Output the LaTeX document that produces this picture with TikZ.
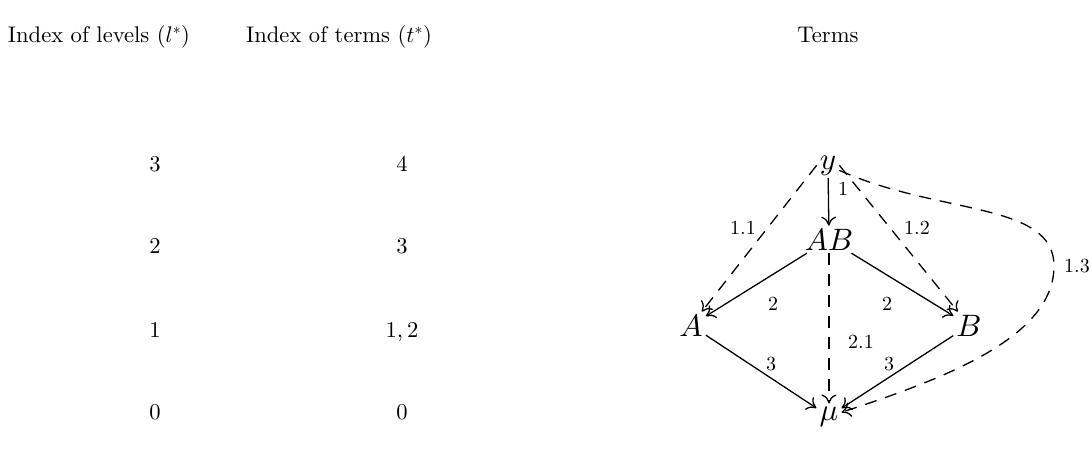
\documentclass[tikz,border=0pt]{standalone}
\usepackage{fontspec}
\setmainfont{lmroman10-regular.otf}
\usetikzlibrary{arrows.meta}
\DeclareFontShape{OT1}{cmr}{m}{n}{<->cmr10}{}
\DeclareFontShape{OML}{cmm}{m}{it}{<->cmmi10}{}
\DeclareFontShape{OMS}{cmsy}{m}{n}{<->cmsy10}{}
\begin{document}
\begin{tikzpicture}[x=1pt,y=1pt,
  txt/.style={font=\fontsize{22.6}{27}\selectfont, anchor=base, inner sep=0pt},
  term/.style={font=\fontsize{31}{36}\selectfont, anchor=base, inner sep=3pt},
  lbl/.style={font=\fontsize{20}{24}\selectfont, inner sep=0pt},
  arr/.style={line width=1.3pt, -{To[length=9pt,width=15pt]}},
  dsh/.style={arr, dash pattern=on 12pt off 9pt}]
\useasboundingbox (0,0) rectangle (1092,456);
% headings
\node[txt] (h1) at (99,413) {Index of levels ($l^*$)};
\node[txt] (h2) at (339,413) {Index of terms ($t^*$)};
\node[txt] (h3) at (828,413) {Terms};
% column 1
\node[txt] (l3) at (155,284) {3};
\node[txt] (l2) at (155,203) {2};
\node[txt] (l1) at (155,119) {1};
\node[txt] (l0) at (155,37) {0};
% column 2
\node[txt] (t3) at (402,284) {4};
\node[txt] (t2) at (402,203) {3};
\node[txt] (t1) at (402,119) {$1,2$};
\node[txt] (t0) at (402,37) {0};
% terms
\node[term] (y) at (828,287) {$y$};
\node[term] (AB) at (829,206) {$AB$};
\node[term] (A) at (691,120) {$A$};
\node[term] (B) at (969,120) {$B$};
\node[term] (mu) at (829,36) {$\mu$};
\coordinate (c) at (1054,190);
% edges
\draw[arr] (y) -- (AB);
\draw[dsh] (y.west) -- (A);
\draw[dsh] (y.east) -- (B);
\draw[arr] (AB) -- (A);
\draw[arr] (AB) -- (B);
\draw[dsh] (AB) -- (mu);
\draw[arr] (A) -- (mu);
\draw[arr] (B) -- (mu);
\draw[dsh] (y) to[out=-24,in=90,out looseness=1.2,in looseness=0.7] (c)
  to[out=-90,in=18,out looseness=0.7,in looseness=1.1] (mu);
% labels
\node[lbl] (e1) at (843,267) {1};
\node[lbl] (e11) at (743,228) {1.1};
\node[lbl] (e12) at (917,228) {1.2};
\node[lbl] (e2a) at (773,152) {2};
\node[lbl] (e2b) at (887,152) {2};
\node[lbl] (e21) at (861,114) {2.1};
\node[lbl] (e3a) at (771,92) {3};
\node[lbl] (e3b) at (889,92) {3};
\node[lbl] (e13) at (1077,190) {1.3};
\end{tikzpicture}
\end{document}
